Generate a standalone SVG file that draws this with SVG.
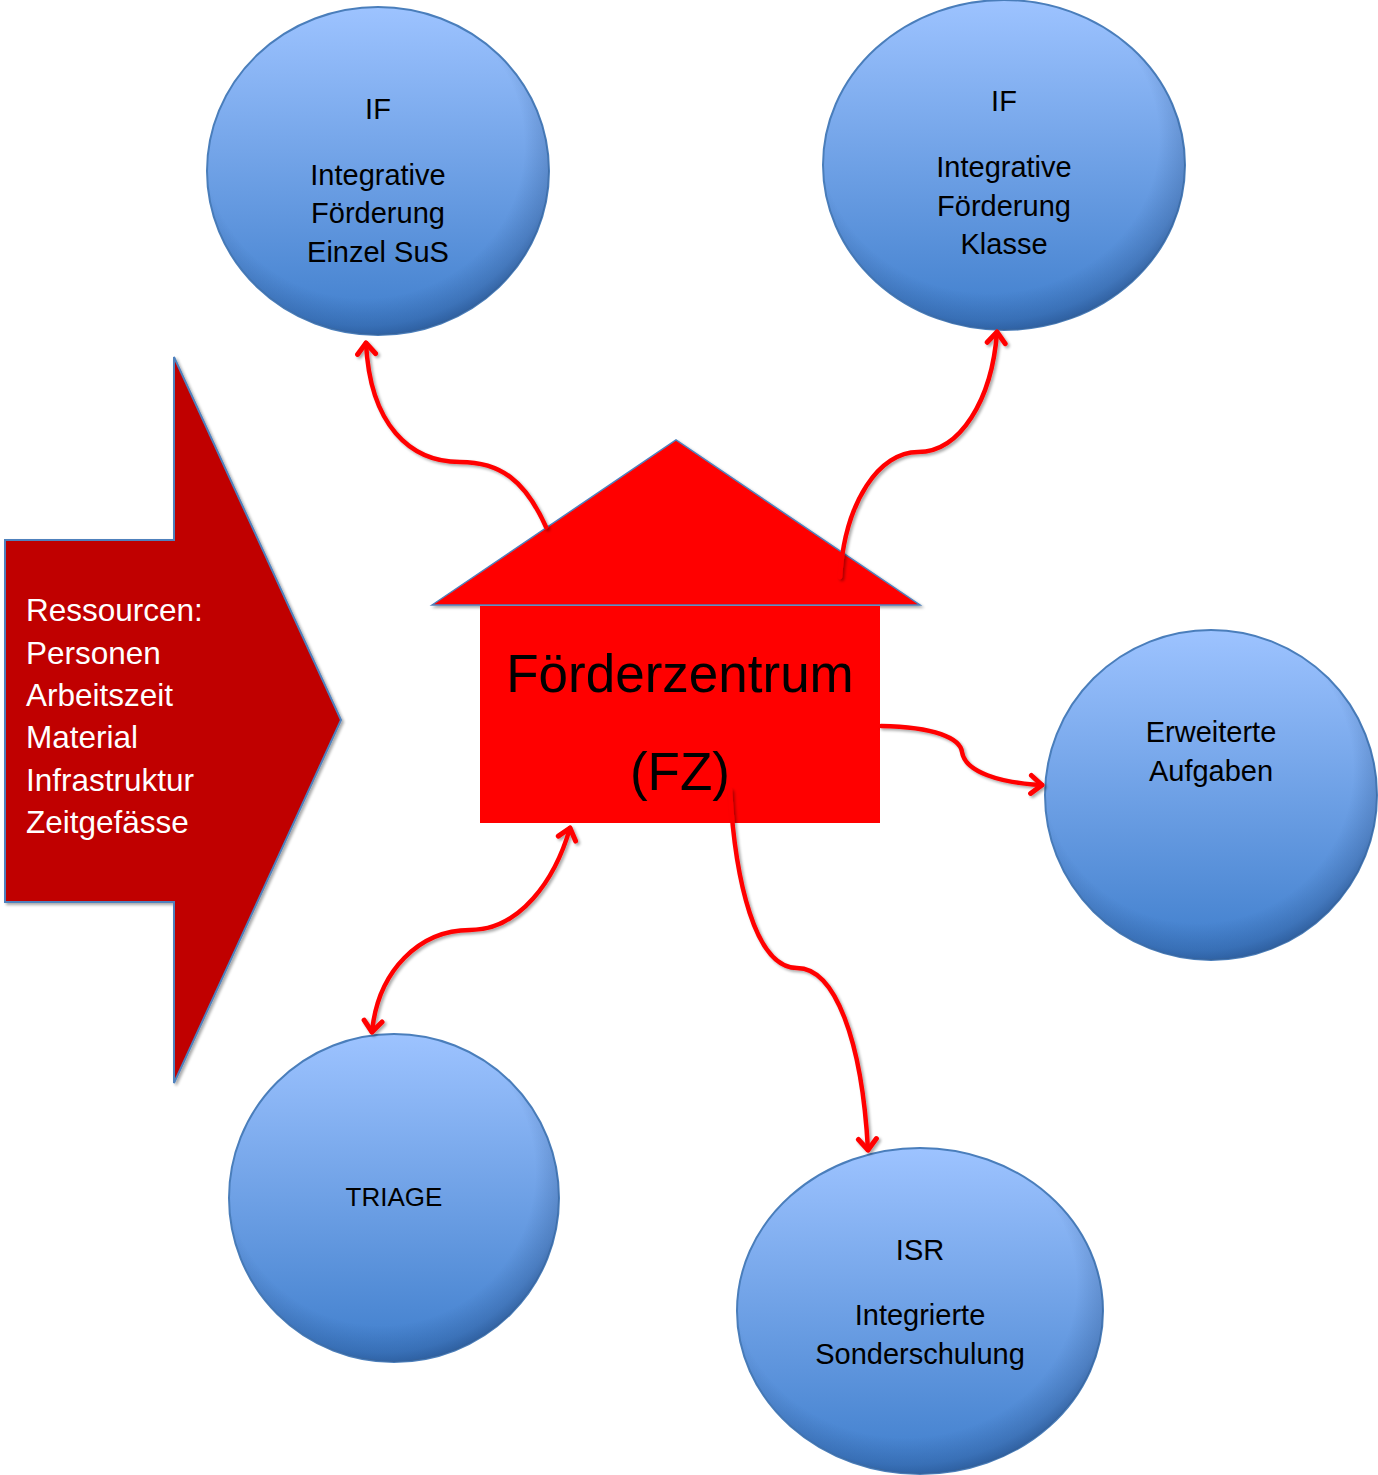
<svg xmlns="http://www.w3.org/2000/svg" width="1378" height="1475" viewBox="0 0 1378 1475">
<defs>
<linearGradient id="bg" x1="0" y1="0" x2="0" y2="1">
<stop offset="0" stop-color="#9DC3FF"/>
<stop offset="1" stop-color="#3F7ECC"/>
</linearGradient>
<radialGradient id="rim" cx="0.46" cy="0.42" r="0.6">
<stop offset="0.78" stop-color="#1a3d70" stop-opacity="0"/>
<stop offset="0.92" stop-color="#1a3d70" stop-opacity="0.25"/>
<stop offset="1" stop-color="#1a3d70" stop-opacity="0.55"/>
</radialGradient>
<filter id="sh" x="-10%" y="-10%" width="130%" height="130%">
<feGaussianBlur in="SourceAlpha" stdDeviation="1.5"/>
<feOffset dx="1.5" dy="2" result="b"/>
<feComponentTransfer><feFuncA type="linear" slope="0.35"/></feComponentTransfer>
<feMerge><feMergeNode/><feMergeNode in="SourceGraphic"/></feMerge>
</filter>
<marker id="ah" viewBox="-14 -12 18 24" markerWidth="18" markerHeight="24" refX="0" refY="0" orient="auto-start-reverse" markerUnits="userSpaceOnUse">
<path d="M-11,-9 L0,0 L-11,9" fill="none" stroke="#FF0000" stroke-width="5" stroke-linecap="round" stroke-linejoin="round"/>
</marker>
</defs>
<style>
.circ{fill:url(#bg);stroke:#4A7EBB;stroke-width:2}
.rim{fill:url(#rim);stroke:none}
.t{font-family:"Liberation Sans",Arial,sans-serif;font-size:29px;fill:#000;text-anchor:middle}
.w{font-family:"Liberation Sans",Arial,sans-serif;font-size:31.5px;fill:#fff}
.con{fill:none;stroke:#FF0000;stroke-width:4.5;stroke-linecap:round}
</style>
<rect width="1378" height="1475" fill="#fff"/>

<g id="ressourcen">
<polygon points="5,540 174,540 174,357 341,720 174,1083 174,902 5,902" fill="#C00000" stroke="#4F81BD" stroke-width="2" filter="url(#sh)"/>
<text class="w" x="26" y="621">Ressourcen:</text>
<text class="w" x="26" y="664">Personen</text>
<text class="w" x="26" y="706">Arbeitszeit</text>
<text class="w" x="26" y="748">Material</text>
<text class="w" x="26" y="791">Infrastruktur</text>
<text class="w" x="26" y="833">Zeitgefässe</text>
</g>

<g id="if-einzel">
<ellipse class="circ" cx="378" cy="171" rx="171" ry="164"/>
<ellipse class="rim" cx="378" cy="171" rx="171" ry="164"/>
<text class="t" x="378" y="119">IF</text>
<text class="t" x="378" y="185">Integrative</text>
<text class="t" x="378" y="223">Förderung</text>
<text class="t" x="378" y="262">Einzel SuS</text>
</g>

<g id="if-klasse">
<ellipse class="circ" cx="1004" cy="165" rx="181" ry="165"/>
<ellipse class="rim" cx="1004" cy="165" rx="181" ry="165"/>
<text class="t" x="1004" y="111">IF</text>
<text class="t" x="1004" y="177">Integrative</text>
<text class="t" x="1004" y="216">Förderung</text>
<text class="t" x="1004" y="254">Klasse</text>
</g>

<g id="erweiterte">
<ellipse class="circ" cx="1211" cy="795" rx="166" ry="165"/>
<ellipse class="rim" cx="1211" cy="795" rx="166" ry="165"/>
<text class="t" x="1211" y="742">Erweiterte</text>
<text class="t" x="1211" y="781">Aufgaben</text>
</g>

<g id="triage">
<ellipse class="circ" cx="394" cy="1198" rx="165" ry="164"/>
<ellipse class="rim" cx="394" cy="1198" rx="165" ry="164"/>
<text class="t" x="394" y="1206" style="font-size:26px">TRIAGE</text>
</g>

<g id="isr">
<ellipse class="circ" cx="920" cy="1311" rx="183" ry="163"/>
<ellipse class="rim" cx="920" cy="1311" rx="183" ry="163"/>
<text class="t" x="920" y="1260">ISR</text>
<text class="t" x="920" y="1325">Integrierte</text>
<text class="t" x="920" y="1364">Sonderschulung</text>
</g>

<g id="foerderzentrum">
<polygon points="432,605 676,440 920,605" fill="#FF0000" stroke="#4F81BD" stroke-width="1.5" filter="url(#sh)"/>
<rect x="480" y="606" width="400" height="217" fill="#FF0000"/>
<text class="t" x="680" y="692" style="font-size:53px">Förderzentrum</text>
<text class="t" x="680" y="790" style="font-size:53px">(FZ)</text>
</g>

<g id="connectors" filter="url(#sh)">
<path class="con" d="M546,527 C525,480 500,462 460,462 C410,462 370,425 366,343" marker-end="url(#ah)"/>
<path class="con" d="M840,577 C845,500 880,452 918,452 C960,452 992,400 997,332" marker-end="url(#ah)"/>
<path class="con" d="M881,726 C935,727 960,738 962,752 C965,772 1000,783 1042,785" marker-end="url(#ah)"/>
<path class="con" d="M570,828 C555,880 520,930 470,930 C420,930 378,970 372,1032" marker-start="url(#ah)" marker-end="url(#ah)"/>
<path class="con" d="M730,790 C735,880 755,968 797,968 C835,968 862,1040 868,1150" marker-end="url(#ah)"/>
</g>
</svg>
